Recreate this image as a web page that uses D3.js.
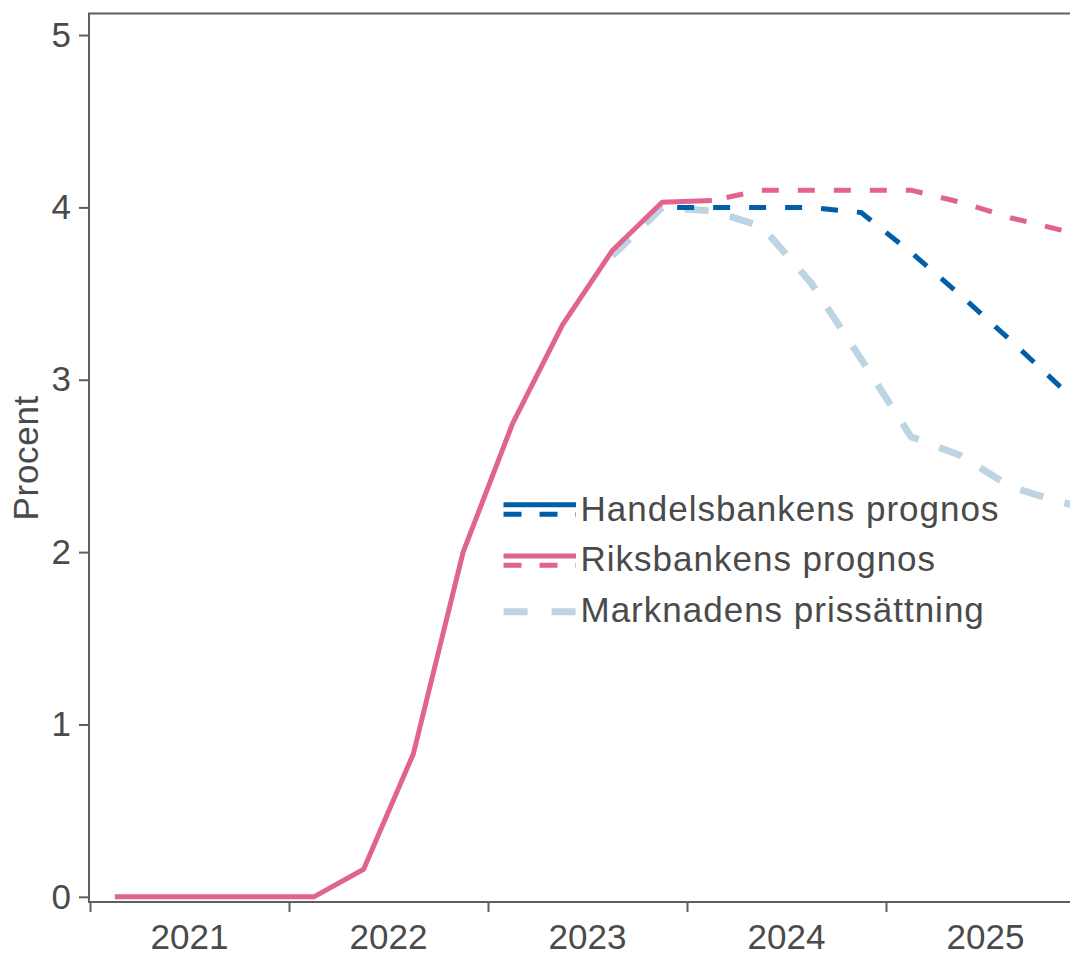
<!DOCTYPE html>
<html>
<head>
<meta charset="utf-8">
<script src="https://cdn.jsdelivr.net/npm/d3@7"></script>
<style>
  html, body { margin: 0; padding: 0; background: #fff; }
  svg { display: block; font-family: "Liberation Sans", Arial, sans-serif; }
</style>
</head>
<body>
<svg id="chart" width="1070" height="955"></svg>
<script>
// ---- Data (quarterly, plotted at mid-quarter) ----
const riksOutcomeQuarters = ["2021Q1","2021Q2","2021Q3","2021Q4","2022Q1","2022Q2","2022Q3","2022Q4","2023Q1","2023Q2","2023Q3","2023Q4","2024Q1"];
const riksOutcomeValues   = [0, 0, 0, 0, 0, 0.16, 0.83, 2.0, 2.75, 3.32, 3.75, 4.03, 4.04];

const riksForecastQuarters = ["2024Q1","2024Q2","2024Q3","2024Q4","2025Q1","2025Q2","2025Q3","2025Q4","2026Q1"];
const riksForecastValues   = [4.04, 4.10, 4.10, 4.10, 4.10, 4.03, 3.94, 3.87, 3.79];

const shbForecastQuarters = ["2023Q4","2024Q1","2024Q2","2024Q3","2024Q4","2025Q1","2025Q2","2025Q3","2025Q4","2026Q1"];
const shbForecastValues   = [4.0, 4.0, 4.0, 4.0, 3.97, 3.74, 3.49, 3.23, 2.96, 2.71];

const marketQuarters = ["2023Q3","2023Q4","2024Q1","2024Q2","2024Q3","2024Q4","2025Q1","2025Q2","2025Q3","2025Q4","2026Q1"];
const marketValues   = [3.72, 4.0, 3.98, 3.89, 3.56, 3.12, 2.67, 2.56, 2.38, 2.29, 2.23];

const yearTicks   = [2021, 2022, 2023, 2024, 2025, 2026];
const yearLabels  = ["2021", "2022", "2023", "2024", "2025"];
const yTickValues = [0, 1, 2, 3, 4, 5];
const yAxisTitle  = "Procent";
const legendLabels = ["Handelsbankens prognos", "Riksbankens prognos", "Marknadens prissättning"];

// ---- Styles ----
const BLUE = "#005fa8", PINK = "#e0648e", LIGHT = "#bdd5e2";
const TEXT = "#4a4a4a", AXIS = "#5f5f5f";

const svg = d3.select("#chart");
const plotLeft = 89, plotRight = 1070, plotTop = 13.5, plotBottom = 902;

const x = d3.scaleLinear().domain([2021, 2026]).range([90, 1085]);
const y = d3.scaleLinear().domain([-0.03, 5.125]).range([plotBottom, plotTop]);

const qx = q => { const yr = +q.slice(0,4), qq = +q.slice(5); return yr + (qq - 0.5) / 4; };
const series = (qs, vs) => qs.map((q, i) => ({ t: qx(q), v: vs[i] }));

svg.append("defs").append("clipPath").attr("id", "plotclip")
  .append("rect").attr("x", plotLeft).attr("y", 0).attr("width", plotRight - plotLeft).attr("height", plotBottom);

const line = d3.line().x(d => x(d.t)).y(d => y(d.v));
const plot = svg.append("g").attr("clip-path", "url(#plotclip)");

plot.append("path").datum(series(marketQuarters, marketValues))
  .attr("d", line).attr("fill", "none").attr("stroke", LIGHT).attr("stroke-width", 7)
  .attr("stroke-dasharray", "24,22").attr("stroke-linejoin", "round");
plot.append("path").datum(series(shbForecastQuarters, shbForecastValues))
  .attr("d", line).attr("fill", "none").attr("stroke", BLUE).attr("stroke-width", 5)
  .attr("stroke-dasharray", "17,19").attr("stroke-dashoffset", 21).attr("stroke-linejoin", "round");
plot.append("path").datum(series(riksForecastQuarters, riksForecastValues))
  .attr("d", line).attr("fill", "none").attr("stroke", PINK).attr("stroke-width", 5)
  .attr("stroke-dasharray", "17,19").attr("stroke-dashoffset", 21).attr("stroke-linejoin", "round");
plot.append("path").datum(series(riksOutcomeQuarters, riksOutcomeValues))
  .attr("d", line).attr("fill", "none").attr("stroke", PINK).attr("stroke-width", 5)
  .attr("stroke-linejoin", "round");

// ---- Frame ----
svg.append("line").attr("x1", plotLeft).attr("x2", plotLeft).attr("y1", plotTop).attr("y2", plotBottom)
  .attr("stroke", AXIS).attr("stroke-width", 2);
svg.append("line").attr("x1", plotLeft - 1).attr("x2", plotRight).attr("y1", plotTop).attr("y2", plotTop)
  .attr("stroke", AXIS).attr("stroke-width", 2);
svg.append("line").attr("x1", plotLeft - 1).attr("x2", plotRight).attr("y1", plotBottom).attr("y2", plotBottom)
  .attr("stroke", AXIS).attr("stroke-width", 2);

// ---- Y axis ----
const yAxis = svg.append("g").attr("transform", `translate(${plotLeft},0)`)
  .call(d3.axisLeft(y).tickValues(yTickValues).tickFormat(d3.format("d")).tickSize(10).tickSizeOuter(0).tickPadding(8));
yAxis.select(".domain").remove();
yAxis.selectAll(".tick line").attr("stroke", AXIS).attr("stroke-width", 2);
yAxis.selectAll(".tick text").attr("fill", TEXT).style("font-size", "35px")
  .style("font-family", '"Liberation Sans", Arial, sans-serif');

svg.append("text").attr("transform", `translate(38,${(plotTop + plotBottom) / 2}) rotate(-90)`)
  .attr("text-anchor", "middle").attr("fill", TEXT).style("font-size", "35px")
  .style("letter-spacing", "0.7px").text(yAxisTitle);

// ---- X axis ----
const xAxis = svg.append("g").attr("transform", `translate(0,${plotBottom})`)
  .call(d3.axisBottom(x).tickValues(yearTicks).tickFormat("").tickSize(10).tickSizeOuter(0));
xAxis.select(".domain").remove();
xAxis.selectAll(".tick line").attr("stroke", AXIS).attr("stroke-width", 2);

svg.append("g").selectAll("text").data(yearLabels).join("text")
  .attr("x", d => x(+d + 0.5)).attr("y", 949)
  .attr("text-anchor", "middle").attr("fill", TEXT).style("font-size", "35px")
  .text(d => d);

// ---- Legend ----
const lg = svg.append("g");
const lx0 = 503.5, lx1 = 576, textX = 580.5;
const rows = [
  { label: legendLabels[0], color: BLUE, solid: true, dash: "18,18", w: 5, ySolid: 504.7, yDash: 514.3, base: 520.7 },
  { label: legendLabels[1], color: PINK, solid: true, dash: "18,18", w: 5, ySolid: 556, yDash: 565.3, base: 570.7 },
  { label: legendLabels[2], color: LIGHT, solid: false, dash: "24,24", w: 7, yDash: 611.7, base: 621.7 }
];
rows.forEach(r => {
  if (r.solid) {
    lg.append("line").attr("x1", lx0).attr("x2", lx1).attr("y1", r.ySolid).attr("y2", r.ySolid)
      .attr("stroke", r.color).attr("stroke-width", r.w);
  }
  lg.append("line").attr("x1", lx0).attr("x2", lx1).attr("y1", r.yDash).attr("y2", r.yDash)
    .attr("stroke", r.color).attr("stroke-width", r.w).attr("stroke-dasharray", r.dash);
  lg.append("text").attr("x", textX).attr("y", r.base).attr("fill", TEXT)
    .style("font-size", "35px").style("letter-spacing", "1px").text(r.label);
});
</script>
</body>
</html>
